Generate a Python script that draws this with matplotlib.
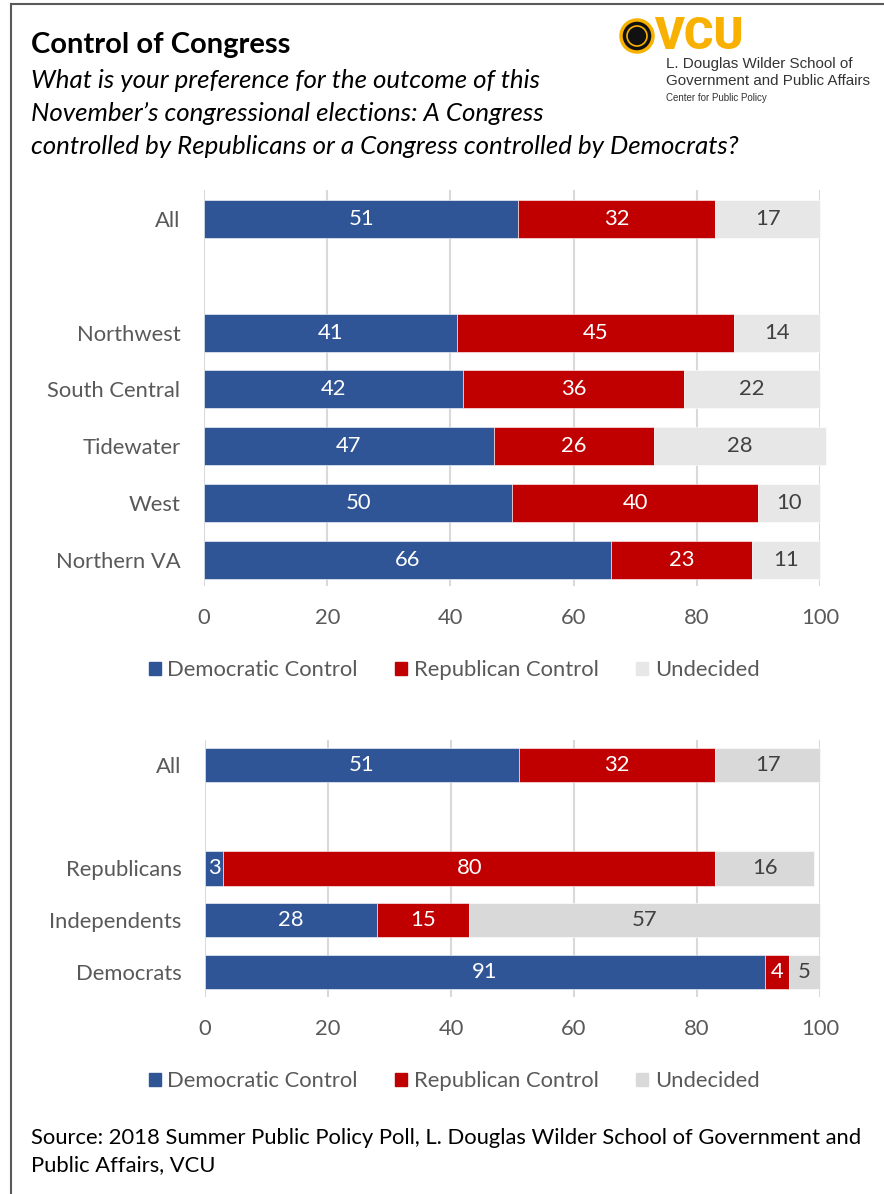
import matplotlib.pyplot as plt
from matplotlib.patches import Circle, Rectangle
from matplotlib.lines import Line2D

plt.rcParams['font.family'] = ['Lato', 'DejaVu Sans']

# Poll results by region
regions = ["All", "Northwest", "South Central", "Tidewater", "West", "Northern VA"]
region_pos = [0, 2, 3, 4, 5, 6]
region_dem = [51, 41, 42, 47, 50, 66]
region_rep = [32, 45, 36, 26, 40, 23]
region_und = [17, 14, 22, 28, 10, 11]

# Poll results by party
parties = ["All", "Republicans", "Independents", "Democrats"]
party_pos = [0, 2, 3, 4]
party_dem = [51, 3, 28, 91]
party_rep = [32, 80, 15, 4]
party_und = [17, 16, 57, 5]

series_names = ["Democratic Control", "Republican Control", "Undecided"]
ticks = [0, 20, 40, 60, 80, 100]

BLUE = "#2F5597"
RED = "#C00000"
GRAY_TOP = "#E7E7E7"
GRAY_BOT = "#D9D9D9"
TXT = "#595959"
FS = 15.8

W, H = 884, 1194
fig = plt.figure(figsize=(W / 100, H / 100), dpi=100)


def box(left, top, right, bottom):
    return [left / W, 1 - bottom / H, (right - left) / W, (bottom - top) / H]


def stacked(ax, cats, pos, dem, rep, und, gray, height, ylim):
    left = [0] * len(cats)
    for vals, col, tcol in [(dem, BLUE, "white"), (rep, RED, "white"), (und, gray, "#404040")]:
        bars = ax.barh(pos, vals, left=left, height=height, color=col,
                       edgecolor="white", linewidth=0.4, zorder=3, clip_on=False)
        for b, v in zip(bars, vals):
            ax.text(b.get_x() + b.get_width() / 2, b.get_y() + b.get_height() / 2,
                    str(v), ha="center", va="center", color=tcol, fontsize=FS, zorder=4)
        left = [l + v for l, v in zip(left, vals)]
    ax.set_xlim(0, 100)
    ax.set_ylim(*ylim)
    ax.set_xticks(ticks)
    ax.set_yticks(pos)
    ax.set_yticklabels(cats)
    ax.tick_params(axis="both", length=0, labelsize=FS, labelcolor=TXT)
    ax.tick_params(axis="x", pad=15.5)
    ax.tick_params(axis="y", pad=17)
    for s in ax.spines.values():
        s.set_visible(False)
    ax.grid(axis="x", color="#D9D9D9", linewidth=1.5, zorder=0)
    ax.set_axisbelow(True)


def legend(y_px, gray):
    handles = [Rectangle((0, 0), 1, 1, color=c) for c in (BLUE, RED, gray)]
    fig.legend(handles, series_names, loc="center", bbox_to_anchor=(454 / W, 1 - y_px / H),
               ncol=3, frameon=False, fontsize=FS, labelcolor=TXT,
               handlelength=0.55, handleheight=0.55, handletextpad=0.3, columnspacing=1.7)


ax1 = fig.add_axes(box(204, 190, 820, 586))
stacked(ax1, regions, region_pos, region_dem, region_rep, region_und,
        GRAY_TOP, 0.67, (6.46, -0.51))
legend(670, GRAY_TOP)

ax2 = fig.add_axes(box(205, 740, 820, 997))
stacked(ax2, parties, party_pos, party_dem, party_rep, party_und,
        GRAY_BOT, 0.66, (4.48, -0.48))
legend(1081, GRAY_BOT)

# headings
fig.text(31 / W, 1 - 45 / H, "Control of Congress", fontsize=21, fontweight="bold",
         va="center", ha="left")
sub = ["What is your preference for the outcome of this",
       "November\u2019s congressional elections: A Congress",
       "controlled by Republicans or a Congress controlled by Democrats?"]
for i, line in enumerate(sub):
    fig.text(31 / W, 1 - (80 + 33 * i) / H, line, fontsize=18.6, style="italic",
             va="center", ha="left")

fig.text(31 / W, 1 - 1138 / H,
         "Source: 2018 Summer Public Policy Poll, L. Douglas Wilder School of Government and",
         fontsize=FS, va="center", ha="left")
fig.text(31 / W, 1 - 1165 / H, "Public Affairs, VCU", fontsize=FS, va="center", ha="left")

# logo block
logo = fig.add_axes([0, 0, 1, 1], zorder=5)
logo.set_xlim(0, W)
logo.set_ylim(H, 0)
logo.axis("off")
logo.add_patch(Circle((637, 36), 16, facecolor="#111111", edgecolor="#F8B100", linewidth=2.5))
logo.add_patch(Circle((637, 36), 10, facecolor="none", edgecolor="#F8B100", linewidth=1.2))
logo.text(654, 37, "VCU", color="#F8B100", fontsize=32.5, fontweight="black",
          family=["Roboto", "DejaVu Sans"], va="center", ha="left")
logo.text(666, 64, "L. Douglas Wilder School of", color="#333333", fontsize=10.9,
          family=["Liberation Sans"], va="center", ha="left")
logo.text(666, 81, "Government and Public Affairs", color="#333333", fontsize=10.9,
          family=["Liberation Sans"], va="center", ha="left")
logo.text(666, 98, "Center for Public Policy", color="#333333", fontsize=7,
          family=["Liberation Sans"], va="center", ha="left")

# frame lines on left and top
logo.add_line(Line2D([11, 11], [4, H], color="#595959", linewidth=1.5))
logo.add_line(Line2D([11, W], [4, 4], color="#595959", linewidth=1.5))

fig.savefig("out.png", dpi=100)
